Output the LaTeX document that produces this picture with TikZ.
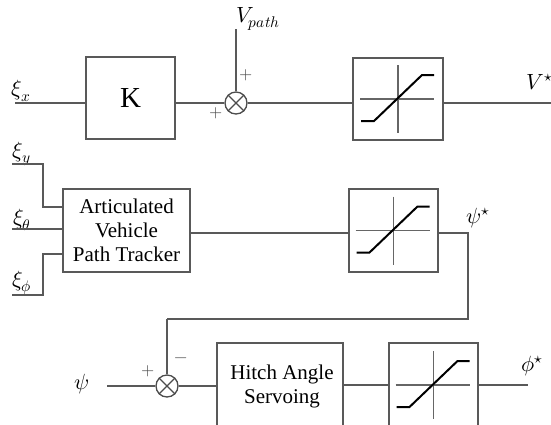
\documentclass[tikz,border=0pt]{standalone}
\usepackage{fontspec}
\setmainfont{Liberation Serif}
\usepackage{unicode-math}
\setmathfont{Latin Modern Math}
\begin{document}
\begin{tikzpicture}[x=1pt,y=-1pt,
  wire/.style={draw=black!65, line width=1.3pt},
  blockbox/.style={draw=black!65, line width=1.3pt, inner sep=0pt, align=center,
    font=\fontsize{21}{24}\selectfont},
  sumnode/.style={draw=black!70, line width=1.3pt, circle, minimum size=22pt, inner sep=0pt},
  lab/.style={font=\fontsize{22}{24}\selectfont, inner sep=0pt},
  sgn/.style={font=\fontsize{17}{18}\selectfont, inner sep=0pt, text=black!70},
  ramp/.style={draw=black, line width=2pt},
  axis/.style={draw=black!60, line width=1.2pt}]
\clip (0,0) rectangle (551,424);
\fill[white] (0,0) rectangle (551,424);
% saturation symbol macro
\newcommand{\satsym}[1]{%
  \draw[axis] ([xshift=-38pt]#1.center) -- ([xshift=36pt]#1.center);
  \draw[axis] ([yshift=34pt]#1.center) -- ([yshift=-34pt]#1.center);
  \draw[ramp] ([xshift=-37pt,yshift=-22pt]#1.center) -- ([xshift=-24pt,yshift=-22pt]#1.center)
     -- ([xshift=24pt,yshift=24pt]#1.center) -- ([xshift=36pt,yshift=24pt]#1.center);}
% top row
\node[lab] (xix) at (21,91) {$\xi_x$};
\coordinate (xixs) at (15,103);
\node[blockbox, minimum width=89pt, minimum height=82pt] (K) at (130.5,98) {\fontsize{29}{30}\selectfont\rmfamily K};
\node[sumnode] (s1) at (236,103) {};
\draw[black!70, line width=1.2pt] (s1.north west) -- (s1.south east) (s1.north east) -- (s1.south west);
\node[lab] (vpath) at (258,19) {$V_{path}$};
\coordinate (vps) at (236,29);
\node[blockbox, minimum width=90pt, minimum height=82pt] (sat1) at (398,99) {};
\satsym{sat1}
\coordinate (vout) at (551,103);
\node[lab] (vstar) at (540,82) {$V^{\star}$};
\node[sgn] at (246,75) {$+$};
\node[sgn] at (216,113) {$+$};
\draw[wire] (xixs) -- (K.west |- xixs);
\draw[wire] (K.east |- xixs) -- (s1.west);
\draw[wire] (vps) -- (s1.north);
\draw[wire] (s1.east) -- (sat1.west |- s1.east);
\draw[wire] (sat1.east |- s1.east) -- (vout);
% middle row
\node[blockbox, minimum width=127pt, minimum height=83pt] (avpt) at (126.5,230.5) {Articulated\\Vehicle\\Path Tracker};
\node[lab] (xiy) at (22,154) {$\xi_y$};
\node[lab] (xith) at (22,220) {$\xi_\theta$};
\node[lab] (xiph) at (22,283) {$\xi_\phi$};
\coordinate (y0) at (12,164);
\coordinate (y1) at (43,164);
\coordinate (y2) at (43,207);
\coordinate (t0) at (12,229);
\coordinate (p0) at (12,295);
\coordinate (p1) at (43,295);
\coordinate (p2) at (43,254);
\draw[wire] (y0) -- (y1) -- (y2) -- (avpt.west |- y2);
\draw[wire] (t0) -- (avpt.west |- t0);
\draw[wire] (p0) -- (p1) -- (p2) -- (avpt.west |- p2);
\node[blockbox, minimum width=89pt, minimum height=83pt] (sat2) at (393.5,230.5) {};
\satsym{sat2}
\coordinate (c1) at (468,233);
\coordinate (c2) at (468,319);
\coordinate (c3) at (167,319);
\node[lab] (psistar) at (478,218) {$\psi^{\star}$};
\draw[wire] (avpt.east |- c1) -- (sat2.west |- c1);
\draw[wire] (sat2.east |- c1) -- (c1) -- (c2) -- (c3);
% bottom row
\node[sumnode] (s2) at (167,386) {};
\draw[black!70, line width=1.2pt] (s2.north west) -- (s2.south east) (s2.north east) -- (s2.south west);
\node[lab] (psi) at (82,384) {$\psi$};
\coordinate (psis) at (107,386);
\node[sgn] at (148,371) {$+$};
\node[sgn] at (181,360) {$-$};
\node[blockbox, minimum width=126pt, minimum height=90pt] (has) at (280,388) {};
\node[font=\fontsize{21}{24}\selectfont, align=center, inner sep=0pt] (hastext) at (282,386) {Hitch Angle\\Servoing};
\node[blockbox, minimum width=89pt, minimum height=90pt] (sat3) at (433.5,388) {};
\draw[axis] (395.5,385) -- (469.5,385);
\draw[axis] (433.5,351) -- (433.5,419);
\draw[ramp] (396.5,407) -- (409.5,407) -- (457.5,361) -- (469.5,361);
\coordinate (phis) at (528,385);
\node[lab] (phistar) at (532,366) {$\phi^{\star}$};
\draw[wire] (c3) -- (s2.north);
\draw[wire] (psis) -- (s2.west);
\draw[wire] (s2.east) -- (has.west |- s2.east);
\draw[wire] (has.east |- phis) -- (sat3.west |- phis);
\draw[wire] (sat3.east |- phis) -- (phis);
\end{tikzpicture}
\end{document}
